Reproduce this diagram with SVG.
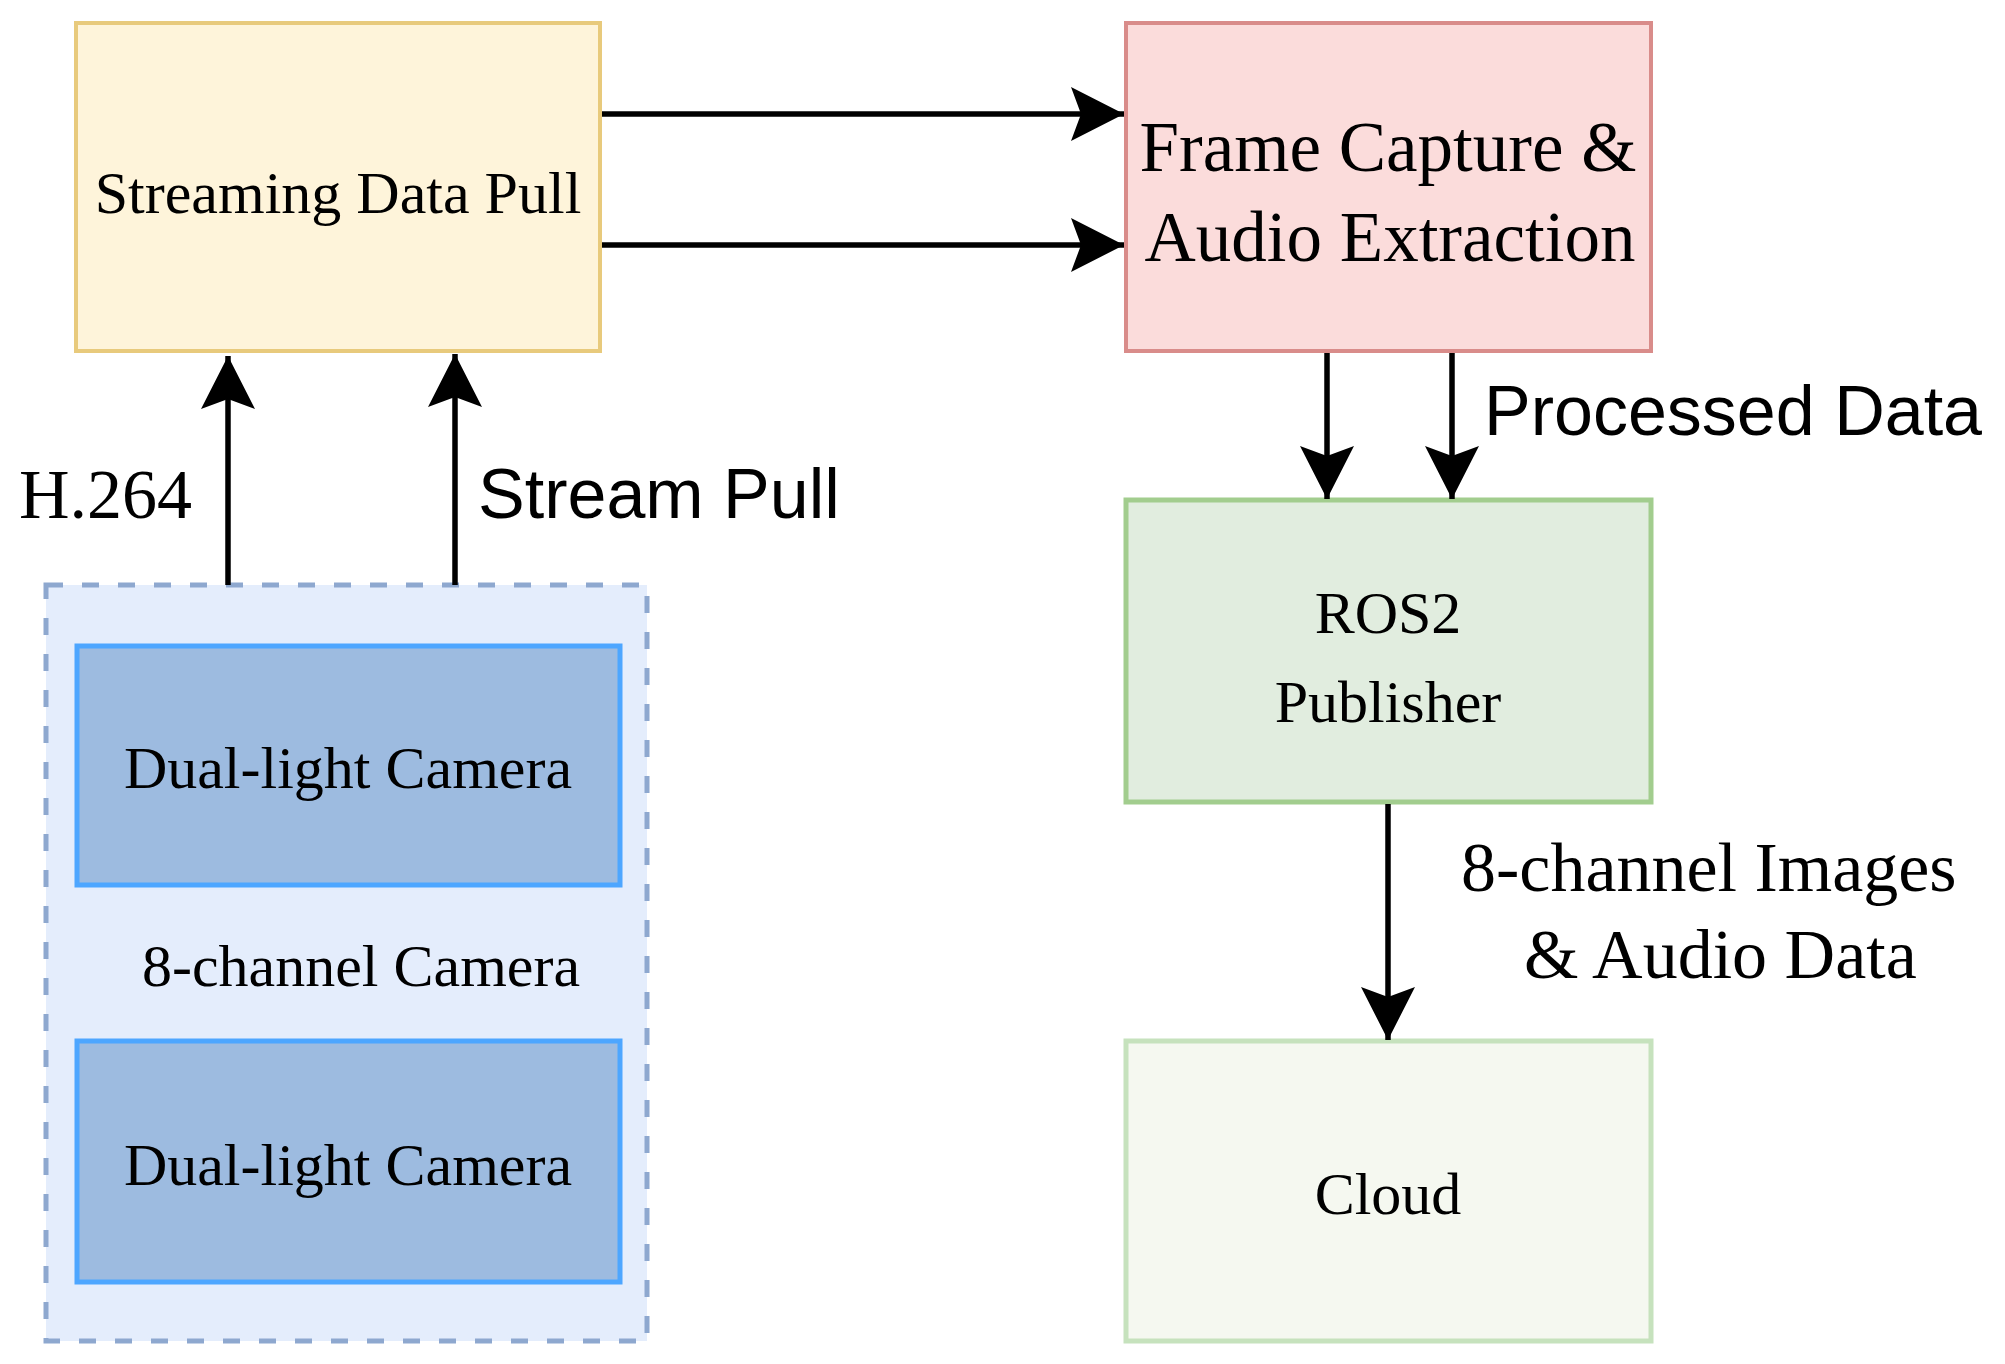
<svg xmlns="http://www.w3.org/2000/svg" width="2005" height="1364" viewBox="0 0 2005 1364">
<style>
.serif{font-family:"Liberation Serif","Times New Roman",serif;fill:#000}
.sans{font-family:"Liberation Sans",Arial,sans-serif;fill:#000}
.conn{stroke:#000;stroke-width:5.5;fill:none}
</style>
<defs>
<marker id="arr" markerUnits="userSpaceOnUse" viewBox="-56 -30 60 60" markerWidth="60" markerHeight="60" refX="0" refY="0" orient="auto">
<path d="M0,0 L-53,-27 L-43,0 L-53,27 Z" fill="#000"/>
</marker>
</defs>
<rect width="2005" height="1364" fill="#fff"/>
<g id="streaming">
<rect x="76" y="23" width="524" height="328" fill="#fef4da" stroke="#e8ca7c" stroke-width="4"/>
<text class="serif" x="338" y="213" font-size="60" text-anchor="middle">Streaming Data Pull</text>
</g>
<g id="frame">
<rect x="1126" y="23" width="525" height="328" fill="#fbdcdb" stroke="#d98c8a" stroke-width="4"/>
<text class="serif" x="1388" y="171" font-size="71" text-anchor="middle">Frame Capture &amp;</text>
<text class="serif" x="1390" y="261" font-size="71" text-anchor="middle">Audio Extraction</text>
</g>
<g id="ros2">
<rect x="1126" y="500" width="525" height="302" fill="#e1eddf" stroke="#a2cd8e" stroke-width="5"/>
<text class="serif" x="1388" y="633" font-size="60" text-anchor="middle">ROS2</text>
<text class="serif" x="1388" y="722" font-size="60" text-anchor="middle">Publisher</text>
</g>
<g id="cloud">
<rect x="1126" y="1041" width="525" height="300" fill="#f5f8f0" stroke="#c6e2bd" stroke-width="5"/>
<text class="serif" x="1388" y="1214" font-size="60" text-anchor="middle">Cloud</text>
</g>
<g id="camera-group">
<rect x="46" y="585" width="601" height="756" fill="#e4edfc" stroke="#8ea8cf" stroke-width="5" stroke-dasharray="17 19"/>
<text class="serif" x="142" y="986" font-size="60">8-channel Camera</text>
</g>
<g id="camera1">
<rect x="77" y="646" width="543" height="239" fill="#9dbbe0" stroke="#4da6ff" stroke-width="5"/>
<text class="serif" x="348" y="788" font-size="60" text-anchor="middle">Dual-light Camera</text>
</g>
<g id="camera2">
<rect x="77" y="1041" width="543" height="241" fill="#9dbbe0" stroke="#4da6ff" stroke-width="5"/>
<text class="serif" x="348" y="1185" font-size="60" text-anchor="middle">Dual-light Camera</text>
</g>
<g id="connectors">
<line class="conn" x1="602" y1="114" x2="1124" y2="114" marker-end="url(#arr)"/>
<line class="conn" x1="602" y1="245" x2="1124" y2="245" marker-end="url(#arr)"/>
<line class="conn" x1="228" y1="585" x2="228" y2="356" marker-end="url(#arr)"/>
<line class="conn" x1="455" y1="585" x2="455" y2="354" marker-end="url(#arr)"/>
<line class="conn" x1="1327" y1="353" x2="1327" y2="499" marker-end="url(#arr)"/>
<line class="conn" x1="1452" y1="353" x2="1452" y2="499" marker-end="url(#arr)"/>
<line class="conn" x1="1388" y1="804" x2="1388" y2="1040" marker-end="url(#arr)"/>
<text class="serif" x="19" y="518" font-size="70">H.264</text>
<text class="sans" x="478" y="518" font-size="70">Stream Pull</text>
<text class="sans" x="1484" y="435" font-size="70">Processed Data</text>
<text class="serif" x="1461" y="891" font-size="70">8-channel Images</text>
<text class="serif" x="1524" y="978" font-size="70">&amp; Audio Data</text>
</g>
</svg>
